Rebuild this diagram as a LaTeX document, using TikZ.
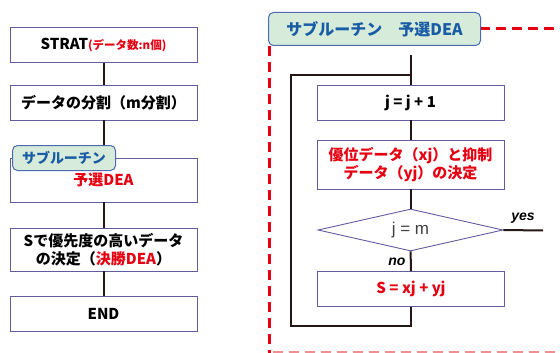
\documentclass[tikz,border=0pt]{standalone}
\usepackage{fontspec}
\setmainfont{Noto Sans CJK JP}[BoldFont={Noto Sans CJK JP Black}]
\newfontfamily\latinsans{Liberation Sans}
\usetikzlibrary{shapes.geometric}
\begin{document}
\begin{tikzpicture}[x=1pt,y=-1pt,
  flowbox/.style={draw=kFrame,line width=0.9pt,fill=white,minimum width=187pt,
    minimum height=35pt,align=center,font=\fontsize{15}{17}\selectfont\bfseries,
    inner sep=0pt},
  tabbox/.style={draw=kTab,line width=1pt,fill=kTabFill,rounded corners=5pt,
    text=kBlue,font=\fontsize{14}{17}\selectfont\bfseries,inner sep=0pt,
    anchor=north west},
  link/.style={draw=kLine,line width=2pt},
  answer/.style={font=\latinsans\fontsize{14}{15}\selectfont\bfseries\itshape},
  border/.style={draw=kRed,line width=3pt,dash pattern=on 10pt off 6pt}]
  % colors
  \definecolor{kFrame}{rgb}{0.38,0.36,0.62}
  \definecolor{kRed}{rgb}{0.90,0.0,0.07}
  \definecolor{kBlue}{rgb}{0.10,0.36,0.65}
  \definecolor{kTab}{rgb}{0.30,0.42,0.70}
  \definecolor{kTabFill}{rgb}{0.84,0.92,0.85}
  \definecolor{kLine}{rgb}{0.14,0.09,0.08}
  \definecolor{kGrey}{rgb}{0.25,0.25,0.25}
  \useasboundingbox (0,0) rectangle (560,353);

  % main flow
  \node[flowbox] (start) at (103.5,45) {STRAT{\color{kRed}\fontsize{11.5}{12}\selectfont (データ数:n個)}};
  \node[flowbox] (split) at (103.5,102.5) {データの分割（m分割）};
  \node[flowbox,minimum height=44pt] (presel) at (103.5,180) {\raisebox{-5pt}{\color{kRed}予選DEA}};
  \node[flowbox,minimum height=43pt,font=\fontsize{15}{18}\selectfont\bfseries] (final) at (103.5,249.5)
    {Sで優先度の高いデータ\\の決定（{\color{kRed}決勝DEA}）};
  \node[flowbox] (stop) at (103.5,313.5) {END};
  \draw[link] (start) -- (split);
  \draw[link] (split) -- (presel);
  \draw[link] (presel) -- (final);
  \draw[link] (final) -- (stop);
  \node[tabbox,minimum width=103pt,minimum height=25pt] (subtab) at (12,145) {サブルーチン};

  % subroutine frame
  \draw[border] (269,30) -- (269,353);
  \draw[border] (480,29) -- (560,29);
  \draw[border,draw=kRed!45,line width=1.6pt] (273,352) -- (556,352);
  \node[tabbox,minimum width=212pt,minimum height=33pt,font=\fontsize{16}{18}\selectfont\bfseries] (rtab) at (268,12) {サブルーチン\quad 予選DEA};

  % loop
  \node[flowbox] (inc) at (410.5,102.5) {j = j + 1};
  \node[flowbox,minimum height=49pt,font=\fontsize{15}{18}\selectfont\bfseries,text=kRed] (decide) at (410.5,164.5)
    {優位データ（xj）と抑制\\データ（yj）の決定};
  \node[diamond,draw=kFrame,line width=0.9pt,aspect=4.4,inner sep=0pt,minimum width=185pt,
    minimum height=42pt,text=kGrey,font=\latinsans\fontsize{17}{19}\selectfont] (check) at (410.5,230) {j = m};
  \node[flowbox,text=kRed] (sum) at (411,289) {S = xj + yj};
  \coordinate (entry) at (410.5,55);
  \coordinate (looptl) at (291,75);
  \coordinate (loopbl) at (291,326);
  \coordinate (yesend) at (543,230.5);
  \draw[link] (entry) -- (inc);
  \draw[link] (inc) -- (decide);
  \draw[link] (decide) -- (check);
  \draw[link] (check) -- (sum);
  \draw[link] (sum.south) -- (sum.south |- loopbl) -- (loopbl) -- (looptl) -- (inc.north |- looptl);
  \draw[link] (check.east) -- (yesend);
  \node[answer,anchor=south] (yes) at (523,227) {yes};
  \node[answer,anchor=east] (no) at (409,262) {no};
\end{tikzpicture}
\end{document}
